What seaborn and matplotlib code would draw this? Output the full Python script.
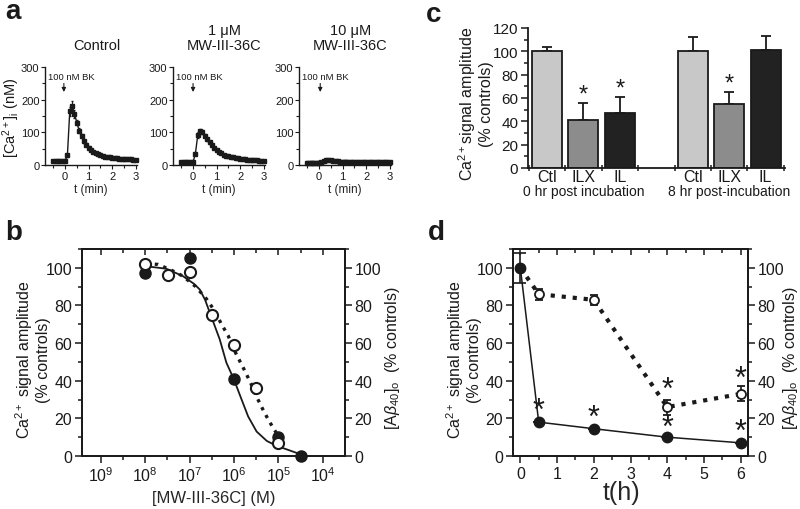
import numpy as np
import matplotlib
matplotlib.use("Agg")
import matplotlib.pyplot as plt
import matplotlib.ticker as mticker
import seaborn as sns

# a. BK-evoked [Ca2+]i traces (nM), sampled every 0.1 min
t_min = np.round(np.arange(-0.5, 3.05, 0.1), 1)
ca_control = [12, 12, 12, 12, 12, 13, 30, 165, 182, 156, 130, 105, 88, 73, 62, 53, 46, 41,
              37, 33, 30, 28, 26, 24, 23, 22, 21, 20, 19.5, 19, 18.5, 18, 17.5, 17, 16.5, 16]
ca_control_err = [1, 1, 1, 1, 1, 1, 4, 14, 14, 11, 9, 7, 6, 5, 4, 4, 3, 3,
                  3, 3, 2, 2, 2, 2, 2, 2, 2, 2, 2, 2, 2, 2, 2, 2, 2, 2]
ca_1um = [8, 8, 8, 8, 8, 9, 35, 92, 104, 100, 90, 79, 69, 60, 52, 46, 40, 36,
          32, 29, 27, 25, 23, 21, 20, 19, 18, 17, 16, 15.5, 15, 14.5, 14, 13.5, 13, 13]
ca_1um_err = [1, 1, 1, 1, 1, 1, 5, 8, 7, 6, 5, 4, 4, 3, 3, 3, 3, 2,
              2, 2, 2, 2, 2, 2, 2, 2, 2, 2, 2, 2, 2, 2, 2, 2, 2, 2]
ca_10um = [7, 7, 7, 7, 7, 7, 8, 11, 14, 15, 14, 13, 12, 11, 10.5, 10, 10, 10,
           9.5, 9.5, 9.5, 9.5, 9, 9, 9, 9, 9, 9, 9, 9, 9, 9, 9, 9, 9, 9]
ca_10um_err = [4, 4, 4, 4, 4, 4, 4, 4, 4, 4, 4, 4, 4, 4, 4, 4, 4, 4,
               4, 4, 4, 4, 4, 4, 4, 4, 4, 4, 4, 4, 4, 4, 4, 4, 4, 4]
a_titles = ["Control", "1 μM\nMW-III-36C", "10 μM\nMW-III-36C"]
bk_arrow_t = [-0.05, 0.0, 0.05]

# b. dose response
conc_ca = [1e-8, 1e-7, 1e-6, 1e-5, 3.2e-5]
ca_amp = [97, 105, 41, 10, 0]
conc_ab = [1e-8, 3.2e-8, 1e-7, 3.2e-7, 1e-6, 3.2e-6, 1e-5]
ab_level = [102, 96, 98, 75, 59, 36, 7]
fit_ca_logc = [-8.0, -7.52, -7.15, -6.9, -6.77, -6.65, -6.54, -6.43, -6.32, -6.17, -6.0,
               -5.86, -5.68, -5.49, -5.26, -5.03, -4.81, -4.5]
fit_ca_val = [100.9, 99.5, 95.6, 91.5, 88.5, 83, 76, 69, 62, 49.6, 40.7,
              32, 21, 13, 8, 5.3, 3.5, 0.9]
fit_ab_logc = [-7.98, -7.71, -7.43, -7.15, -6.86, -6.62, -6.43, -6.28, -6.13, -6.02, -5.88,
               -5.75, -5.62, -5.50, -5.37, -5.22, -5.05, -4.85]
fit_ab_val = [102.3, 101.8, 99, 95.6, 90, 83.5, 77, 70, 64, 57.5, 51,
              45, 38.6, 32, 25.7, 19, 12.4, 6.4]

# c. bar chart
bar_pos = [0, 1, 2, 4, 5, 6]
bar_names = ["Ctl", "ILX", "IL", "Ctl", "ILX", "IL"]
bar_val = [100, 41, 47, 100, 55, 101]
bar_err = [4, 15, 14, 12, 10, 12]
bar_sig = [False, True, True, False, True, False]
bar_colors = ["#c8c8c8", "#8c8c8c", "#222222", "#c8c8c8", "#8c8c8c", "#222222"]

# d. time course
t_h = [0, 0.5, 2, 4, 6]
ca_d = [100, 18, 14.5, 10, 7]
ca_d_err = [8, 0, 0, 0, 0]
ab_d = [100, 86, 83, 26, 33]
ab_d_err = [0, 3, 2.5, 4, 4]
star_d_t = [0.5, 2, 4, 4, 6, 6]
star_d_y = [24, 20.5, 15, 35, 13, 41]

sns.set_theme(style="ticks")
plt.rcParams['font.family'] = ['Liberation Sans', 'DejaVu Sans']
plt.rcParams['mathtext.fontset'] = 'custom'
plt.rcParams['mathtext.rm'] = 'Liberation Sans'
plt.rcParams['mathtext.it'] = 'Liberation Sans:italic'
plt.rcParams['mathtext.bf'] = 'Liberation Sans:bold'
plt.rcParams['axes.edgecolor'] = '#1a1a1a'
plt.rcParams['text.color'] = '#1a1a1a'
plt.rcParams['xtick.color'] = '#1a1a1a'
plt.rcParams['ytick.color'] = '#1a1a1a'

W, H = 800, 510
fig = plt.figure(figsize=(8, 5.1), dpi=100)


def box(l, t, r, b):
    return fig.add_axes([l / W, 1 - b / H, (r - l) / W, (b - t) / H])


def ftext(x, y, s, **kw):
    fig.text(x / W, 1 - y / H, s, **kw)


# ---- panel a
a_boxes = [(45, 68, 137, 166), (173, 68, 265, 166), (299, 68, 391, 166)]
a_data = [(ca_control, ca_control_err), (ca_1um, ca_1um_err), (ca_10um, ca_10um_err)]
for i, (bx, (vals, errs)) in enumerate(zip(a_boxes, a_data)):
    ax = box(*bx)
    ax.errorbar(t_min, vals, yerr=errs, fmt='s-', ms=3, color='#1a1a1a', lw=1,
                elinewidth=0.8, capsize=1, clip_on=False)
    ax.set_xlim(-0.85, 3.05)
    ax.set_ylim(0, 300)
    ax.set_xticks([0, 1, 2, 3])
    ax.set_yticks([0, 100, 200, 300])
    ax.xaxis.set_minor_locator(mticker.MultipleLocator(0.5))
    ax.yaxis.set_minor_locator(mticker.MultipleLocator(50))
    sns.despine(ax=ax)
    for s in ax.spines.values():
        s.set_linewidth(1)
    ax.tick_params(labelsize=8, length=3, width=0.8, pad=1)
    ax.tick_params(which='minor', length=2, width=0.8)
    ax.set_xlabel("t (min)", fontsize=8.5, labelpad=2)
    ax.annotate("", xy=(bk_arrow_t[i], 215), xytext=(bk_arrow_t[i], 258),
                arrowprops=dict(arrowstyle='-|>', color='#1a1a1a', lw=0.8, mutation_scale=6))
    ax.text(0.28, 272, "100 nM BK", fontsize=6.8, ha='center', va='center')
    ax.text(0.56, 1.18, a_titles[i], transform=ax.transAxes, fontsize=10.5,
            ha='center', va='baseline', linespacing=1.15)

ftext(11, 118, r"[Ca$^{2+}$]$_{\rm i}$ (nM)", rotation=90, ha='center', va='center', fontsize=10.5)

# ---- panel b
axb = box(82, 250, 345, 457)
axb.set_xscale('log')
sns.lineplot(x=10 ** np.array(fit_ca_logc), y=fit_ca_val, ax=axb, color='#1a1a1a', lw=1.3)
sns.lineplot(x=10 ** np.array(fit_ab_logc), y=fit_ab_val, ax=axb, color='#1a1a1a', lw=2.4,
             linestyle=':')
axb.plot(conc_ca, ca_amp, 'o', ms=8, color='#1a1a1a', clip_on=False, zorder=5)
axb.plot(conc_ab, ab_level, 'o', ms=8, mfc='white', mec='#1a1a1a', mew=1.5, zorder=6)
axb.set_xlim(10 ** -9.42, 10 ** -3.5)
axb.set_ylim(0, 110)
dec = [-9, -8, -7, -6, -5, -4]
axb.xaxis.set_major_locator(mticker.FixedLocator([10.0 ** k for k in dec]))
axb.xaxis.set_major_formatter(mticker.FixedFormatter([r"$10^{%d}$" % -k for k in dec]))
axb.xaxis.set_minor_locator(mticker.FixedLocator([10.0 ** (k + 0.5) for k in dec[:-1]]))
axb.xaxis.set_minor_formatter(mticker.NullFormatter())

# ---- panel d
axd = box(513, 250, 748, 457)
sns.lineplot(x=t_h, y=ab_d, ax=axd, color='#1a1a1a', lw=3, linestyle=':')
axd.errorbar(t_h, ab_d, yerr=ab_d_err, fmt='o', ms=6.5, mfc='white', mec='#1a1a1a', mew=1.3,
             ecolor='#1a1a1a', elinewidth=1.2, capsize=3, capthick=1.2, zorder=4)
sns.lineplot(x=t_h, y=ca_d, ax=axd, color='#1a1a1a', lw=1.1)
axd.errorbar(t_h, ca_d, yerr=ca_d_err, fmt='o', ms=7.5, color='#1a1a1a',
             elinewidth=1.2, capsize=4, capthick=1.2, zorder=5, clip_on=False)
for x, y in zip(star_d_t, star_d_y):
    axd.text(x, y, "*", fontsize=22, ha='center', va='center')
axd.set_xlim(-0.2, 6.2)
axd.set_ylim(0, 110)
axd.set_xticks(range(7))
axd.xaxis.set_minor_locator(mticker.MultipleLocator(0.5))

for ax in (axb, axd):
    ax.yaxis.set_major_locator(mticker.MultipleLocator(20))
    ax.yaxis.set_minor_locator(mticker.MultipleLocator(10))
    for s in ax.spines.values():
        s.set_linewidth(1.3)
    ax.tick_params(labelsize=11.5, length=5, width=1.1, pad=2)
    ax.tick_params(which='minor', length=3, width=1.1)
    ax2 = ax.twinx()
    ax2.set_ylim(0, 110)
    ax2.yaxis.set_major_locator(mticker.MultipleLocator(20))
    ax2.yaxis.set_minor_locator(mticker.MultipleLocator(10))
    ax2.tick_params(labelsize=11.5, length=5, width=1.1, pad=2)
    ax2.tick_params(which='minor', length=3, width=1.1)
    top = ax.secondary_xaxis('top')
    top.xaxis.set_major_locator(ax.xaxis.get_major_locator())
    top.xaxis.set_minor_locator(ax.xaxis.get_minor_locator())
    top.tick_params(which='both', direction='in', labeltop=False, length=4, width=1.1)
    top.tick_params(which='minor', length=3)

axb.set_xlabel("[MW-III-36C] (M)", fontsize=12, labelpad=4)
axd.set_xlabel("t(h)", fontsize=18, labelpad=0)
axd.xaxis.set_label_coords(0.46, -0.115)

ca_label = "Ca$^{2+}$ signal amplitude\n(% controls)"
ab_label = r"[A$\beta_{40}$]$_{\rm o}$  (% controls)"
ftext(32, 360, ca_label, rotation=90, ha='center', va='center', fontsize=11.5, linespacing=1.1)
ftext(392, 358, ab_label, rotation=90, ha='center', va='center', fontsize=11.5)
ftext(463, 360, ca_label, rotation=90, ha='center', va='center', fontsize=11.5, linespacing=1.1)
ftext(791, 358, ab_label, rotation=90, ha='center', va='center', fontsize=11.5)

# ---- panel c
axc = box(528, 29, 785, 169)
axc.bar(bar_pos, bar_val, width=0.82, color=bar_colors, edgecolor='#1a1a1a', lw=1.3, zorder=2)
axc.errorbar(bar_pos, bar_val, yerr=[[0] * len(bar_err), bar_err], fmt='none', ecolor='#1a1a1a',
             elinewidth=1.3, capsize=3.5, capthick=1.3, zorder=1)
for x, v, e, sig in zip(bar_pos, bar_val, bar_err, bar_sig):
    if sig:
        axc.text(x, v + e + 7, "*", fontsize=17, ha='center', va='center')
axc.set_xlim(-0.52, 6.53)
axc.set_ylim(0, 120)
axc.yaxis.set_major_locator(mticker.MultipleLocator(20))
axc.yaxis.set_minor_locator(mticker.MultipleLocator(10))
axc.set_xticks([-0.5, 0.5, 1.5, 2.5, 3.5, 4.5, 5.5, 6.5])
axc.set_xticklabels([])
axc.set_xticks(bar_pos, minor=True)
axc.set_xticklabels(bar_names, minor=True, fontsize=11.5)
axc.tick_params(axis='x', which='major', direction='inout', length=5, width=1.1)
axc.tick_params(axis='x', which='minor', length=0, pad=1)
axc.tick_params(axis='y', which='major', labelsize=11, length=5, width=1.1, pad=2)
axc.tick_params(axis='y', which='minor', length=3, width=1.1)
sns.despine(ax=axc)
for s in axc.spines.values():
    s.set_linewidth(1.3)
axc.text(1, -0.165, "0 hr post incubation", transform=axc.get_xaxis_transform(),
         ha='center', va='center', fontsize=10)
axc.text(5, -0.165, "8 hr post-incubation", transform=axc.get_xaxis_transform(),
         ha='center', va='center', fontsize=10)
ftext(475, 104, "Ca$^{2+}$signal amplitude\n(% controls)", rotation=90, ha='center',
      va='center', fontsize=11.5, linespacing=1.1)

# panel letters
for lab, x, y in [("a", 13, 12), ("b", 14, 233), ("c", 434, 15), ("d", 436, 233)]:
    ftext(x, y, lab, fontsize=20, fontweight='bold', ha='center', va='center')

fig.savefig("out.png", dpi=100, facecolor='white')
